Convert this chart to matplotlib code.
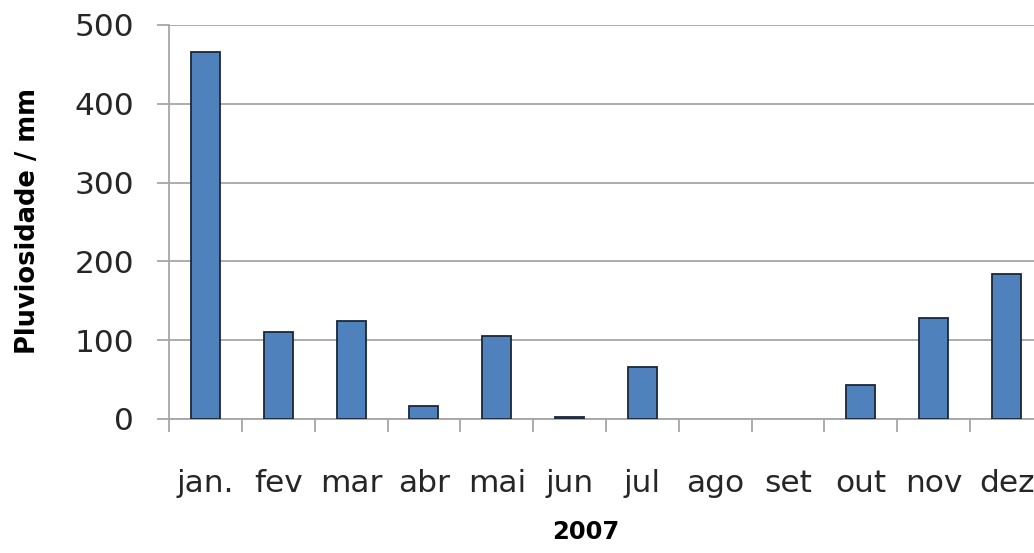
import matplotlib
matplotlib.use("Agg")
import matplotlib.pyplot as plt
import numpy as np

months = ["jan.", "fev", "mar", "abr", "mai", "jun", "jul", "ago", "set", "out", "nov", "dez"]
rain_mm = [466, 110, 124, 16, 105, 2, 66, 0, 0, 43, 128, 184]
y_ticks = [0, 100, 200, 300, 400, 500]

plt.rcParams['font.family'] = ['DejaVu Sans']

W, H = 1034, 553
fig = plt.figure(figsize=(W / 100, H / 100), dpi=100)
ax = fig.add_axes([169 / W, 1 - 419 / H, (1043 - 169) / W, (419 - 25) / H])

x = np.arange(len(months))
edges = ["#1B2738" if v > 0 else "none" for v in rain_mm]
ax.bar(x, rain_mm, width=0.4, color="#4F81BD", edgecolor=edges, linewidth=1.3, zorder=3)

ax.set_xlim(-0.5, len(months) - 0.5)
ax.set_ylim(0, 500)
ax.set_yticks(y_ticks)
ax.yaxis.grid(True, color="#A6A6A6", linewidth=1.3, zorder=0)
ax.set_axisbelow(True)

# x-axis ticks at category boundaries
ax.set_xticks(np.arange(-0.5, len(months) + 0.5, 1.0))
ax.set_xticklabels([])
ax.set_xticks(x, minor=True)
ax.set_xticklabels(months, minor=True, fontsize=22.5, color="#262626")
ax.tick_params(axis="x", which="minor", length=0, pad=36)
ax.tick_params(axis="x", which="major", length=9, width=1.3, color="#A6A6A6")
ax.tick_params(axis="y", length=9, width=1.3, color="#A6A6A6", labelsize=22.5, labelcolor="#262626", pad=16)

for s in ["top", "right"]:
    ax.spines[s].set_visible(False)
ax.spines["left"].set_color("#A6A6A6")
ax.spines["left"].set_linewidth(1.3)
ax.spines["bottom"].set_color("#A6A6A6")
ax.spines["bottom"].set_linewidth(1.3)

fig.text(28 / W, 1 - 221 / H, "Pluviosidade / mm", rotation=90, ha="center", va="center",
         fontsize=18.5, fontweight="bold", color="#000000")
fig.text(586 / W, 1 - 532 / H, "2007", ha="center", va="center",
         fontsize=17.5, fontweight="bold", color="#000000")

fig.savefig("out.png", dpi=100)
